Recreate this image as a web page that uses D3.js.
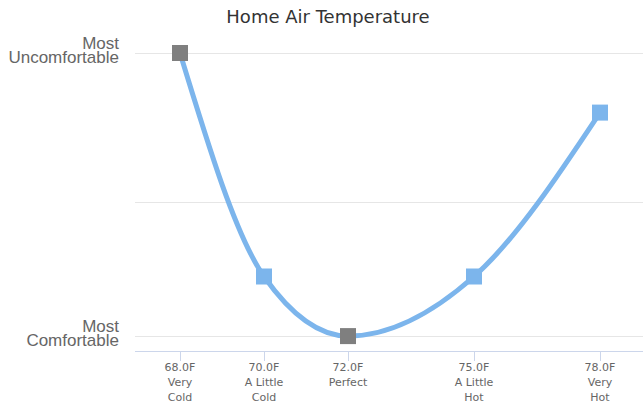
<!DOCTYPE html>
<html>
<head>
<meta charset="utf-8">
<script src="https://cdn.jsdelivr.net/npm/d3@7"></script>
<style>
  body { margin: 0; background: #fff; }
  svg { display: block; font-family: "Liberation Sans", Arial, sans-serif; }
  .grid-line { stroke: #e6e6e6; stroke-width: 1; }
  .axis-line { stroke: #ccd6eb; stroke-width: 1; }
  .y-label { fill: #666; font-size: 17px; }
  .x-label { fill: #666; font-size: 11px; font-family: "DejaVu Sans", sans-serif; }
</style>
</head>
<body>
<svg id="chart" width="643" height="407"></svg>
<script>
const temps = [68, 70, 72, 75, 78];
const discomfort = [10, 2.5, 0.5, 2.5, 8];
const tempLabels = ["68.0F", "70.0F", "72.0F", "75.0F", "78.0F"];
const feelLabels = [["Very", "Cold"], ["A Little", "Cold"], ["Perfect"], ["A Little", "Hot"], ["Very", "Hot"]];
const markerColors = ["#7f7f7f", "#7cb5ec", "#7f7f7f", "#7cb5ec", "#7cb5ec"];
const yTicks = [0.5, 5, 10];
const yTickLabels = [["Most", "Comfortable"], [], ["Most", "Uncomfortable"]];

const svg = d3.select("#chart");
const plot = { left: 135, right: 643, top: 53, bottom: 351 };

const x = d3.scaleLinear().domain([68, 78]).range([180, 600]);
const y = d3.scaleLinear().domain([0, 10]).range([plot.bottom, plot.top]);

const points = temps.map((t, i) => ({ t, v: discomfort[i], color: markerColors[i] }));

svg.append("text")
  .attr("x", 328)
  .attr("y", 23)
  .attr("text-anchor", "middle")
  .attr("fill", "#333")
  .style("font-family", "'DejaVu Sans', sans-serif")
  .style("font-size", "18px")
  .text("Home Air Temperature");

// grid
svg.append("g").selectAll("line")
  .data(yTicks)
  .join("line")
  .attr("class", "grid-line")
  .attr("x1", plot.left)
  .attr("x2", plot.right)
  .attr("y1", (d) => Math.round(y(d)) + 0.5)
  .attr("y2", (d) => Math.round(y(d)) + 0.5);

// y labels
const yLab = svg.append("g").selectAll("text")
  .data(yTicks.map((d, i) => ({ v: d, lines: yTickLabels[i] })))
  .join("text")
  .attr("class", "y-label")
  .attr("text-anchor", "end");
yLab.each(function (d) {
  d3.select(this).selectAll("tspan")
    .data(d.lines)
    .join("tspan")
    .attr("x", 119)
    .attr("y", (l, j) => y(d.v) - 4 + j * 14)
    .text((l) => l);
});

// x axis
svg.append("line")
  .attr("class", "axis-line")
  .attr("x1", plot.left)
  .attr("x2", plot.right)
  .attr("y1", plot.bottom + 0.5)
  .attr("y2", plot.bottom + 0.5);

svg.append("g").selectAll("line")
  .data(temps)
  .join("line")
  .attr("class", "axis-line")
  .attr("x1", (d) => Math.round(x(d)) + 0.5)
  .attr("x2", (d) => Math.round(x(d)) + 0.5)
  .attr("y1", plot.bottom)
  .attr("y2", plot.bottom + 10);

const xLab = svg.append("g").selectAll("text")
  .data(temps.map((t, i) => ({ t, lines: [tempLabels[i], ...feelLabels[i]] })))
  .join("text")
  .attr("class", "x-label")
  .attr("text-anchor", "middle");
xLab.each(function (d) {
  d3.select(this).selectAll("tspan")
    .data(d.lines)
    .join("tspan")
    .attr("x", x(d.t))
    .attr("y", (l, j) => 371 + j * 15)
    .text((l) => l);
});

// series
const line = d3.line()
  .x((d) => x(d.t))
  .y((d) => y(d.v))
  .curve(d3.curveMonotoneX);

svg.append("path")
  .datum(points)
  .attr("d", line)
  .attr("fill", "none")
  .attr("stroke", "#7cb5ec")
  .attr("stroke-width", 5)
  .attr("stroke-linecap", "round");

const size = 16;
svg.append("g").selectAll("rect")
  .data(points)
  .join("rect")
  .attr("x", (d) => x(d.t) - size / 2)
  .attr("y", (d) => y(d.v) - size / 2)
  .attr("width", size)
  .attr("height", size)
  .attr("fill", (d) => d.color);
</script>
</body>
</html>
